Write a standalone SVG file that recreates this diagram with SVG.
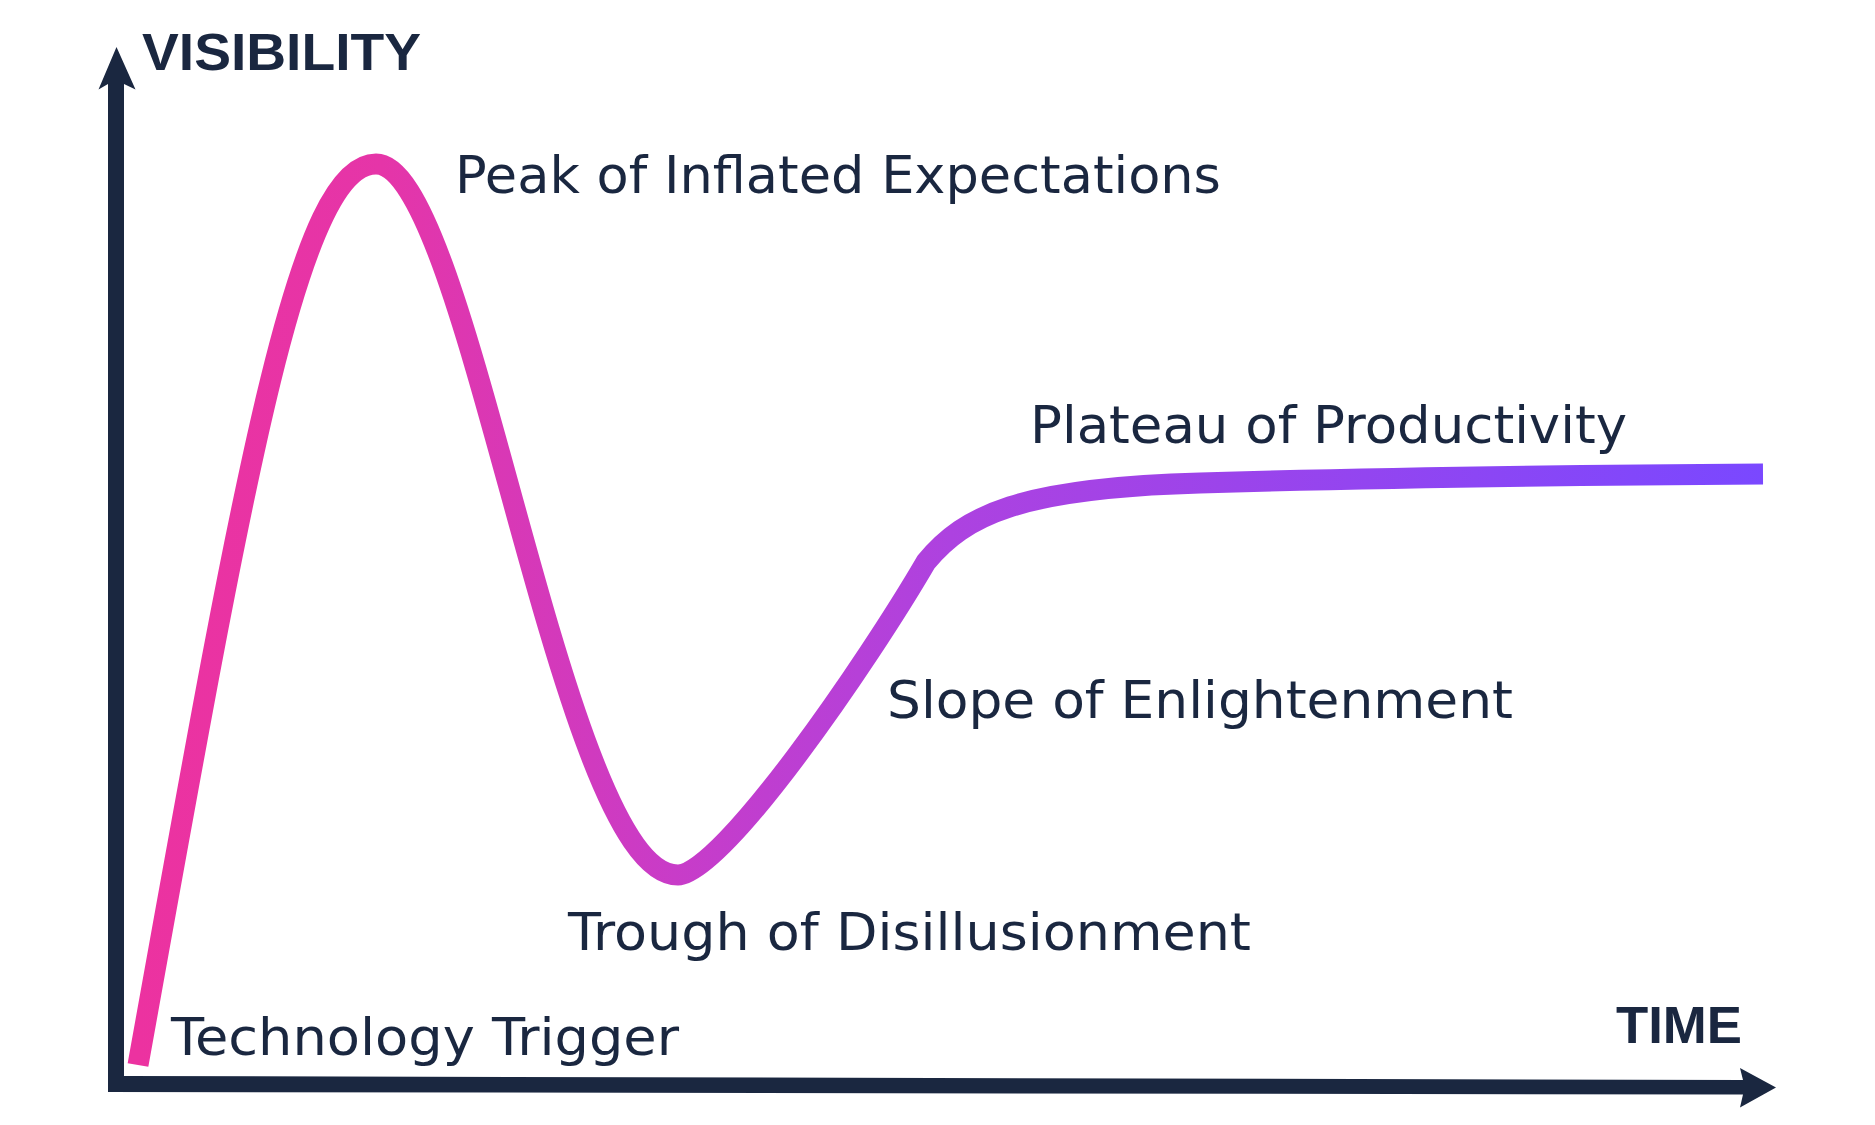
<svg xmlns="http://www.w3.org/2000/svg" width="1875" height="1125" viewBox="0 0 1875 1125">
  <style>
    .axis { fill: #1A2740; }
    .title { font-family: "Liberation Sans", Arial, sans-serif; font-weight: bold; font-size: 52px; fill: #1A2740; }
    .label { font-family: "DejaVu Sans", "Liberation Sans", sans-serif; font-size: 52px; fill: #1A2740; }
    .curve { fill: none; stroke: url(#hype); stroke-width: 21; stroke-linecap: butt; stroke-linejoin: miter; }
  </style>
  <defs>
    <linearGradient id="hype" gradientUnits="userSpaceOnUse" x1="138" y1="0" x2="1763" y2="0">
      <stop offset="0" stop-color="#EC32A0"/>
      <stop offset="0.15" stop-color="#E535A8"/>
      <stop offset="0.33" stop-color="#C83CC8"/>
      <stop offset="0.5" stop-color="#AD42E0"/>
      <stop offset="1" stop-color="#7A48FF"/>
    </linearGradient>
  </defs>
  <rect width="1875" height="1125" fill="#FFFFFF"/>

  <g id="axes">
    <path class="axis" d="M108 84 L108 1092 L1743 1094.5 L1740 1107.5 L1776 1087.5 L1740 1068 L1743 1080 L124 1076 L124 84 L135.5 89.5 L116.5 47 L98.5 89.5 Z"/>
  </g>

  <g id="axis-labels">
    <text class="title" x="142" y="70" textLength="279" lengthAdjust="spacingAndGlyphs">VISIBILITY</text>
    <text class="title" x="1616" y="1043" textLength="126" lengthAdjust="spacingAndGlyphs">TIME</text>
  </g>

  <g id="connectors">
    <path id="hype-curve" class="curve" d="M138 1065 C245 470 298 164 376 164 C470 164 560 875 678 875 C722 875 869 660 926 562 C965 515 1020 488 1200 483 C1300 480 1500 475.5 1763 474"/>
  </g>

  <g id="technology-trigger">
    <text class="label" x="171" y="1055" textLength="508" lengthAdjust="spacingAndGlyphs">Technology Trigger</text>
  </g>
  <g id="peak">
    <text class="label" x="455" y="193" textLength="766" lengthAdjust="spacingAndGlyphs">Peak of Inflated Expectations</text>
  </g>
  <g id="trough">
    <text class="label" x="568" y="950" textLength="683" lengthAdjust="spacingAndGlyphs">Trough of Disillusionment</text>
  </g>
  <g id="slope">
    <text class="label" x="887" y="718" textLength="626" lengthAdjust="spacingAndGlyphs">Slope of Enlightenment</text>
  </g>
  <g id="plateau">
    <text class="label" x="1030" y="443" textLength="597" lengthAdjust="spacingAndGlyphs">Plateau of Productivity</text>
  </g>
</svg>
